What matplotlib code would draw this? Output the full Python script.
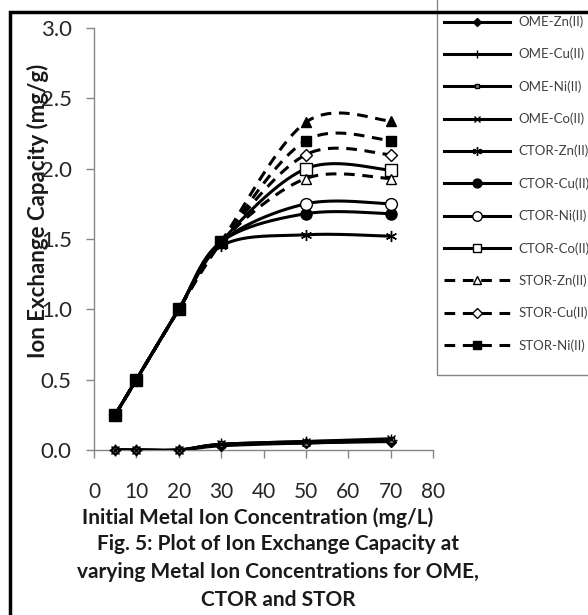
import numpy as np
import matplotlib
matplotlib.use("Agg")
import matplotlib.pyplot as plt
from matplotlib.lines import Line2D
from matplotlib.patches import Rectangle

# initial metal ion concentration (mg/L)
conc = [5, 10, 20, 30, 50, 70]

series_names = [
    "OME-Zn(II)", "OME-Cu(II)", "OME-Ni(II)", "OME-Co(II)",
    "CTOR-Zn(II)", "CTOR-Cu(II)", "CTOR-Ni(II)", "CTOR-Co(II)",
    "STOR-Zn(II)", "STOR-Cu(II)", "STOR-Ni(II)", "STOR-Co(II)",
]

# ion exchange capacity (mg/g)
ome_zn = [0.0, 0.0, 0.0, 0.03, 0.05, 0.06]
ome_cu = [0.0, 0.0, 0.0, 0.04, 0.06, 0.07]
ome_ni = [0.0, 0.0, 0.0, 0.04, 0.05, 0.07]
ome_co = [0.0, 0.0, 0.0, 0.04, 0.06, 0.08]
ctor_zn = [0.25, 0.5, 1.0, 1.45, 1.53, 1.52]
ctor_cu = [0.25, 0.5, 1.0, 1.48, 1.68, 1.68]
ctor_ni = [0.25, 0.5, 1.0, 1.48, 1.75, 1.75]
ctor_co = [0.25, 0.5, 1.0, 1.48, 2.00, 1.99]
stor_zn = [0.25, 0.5, 1.0, 1.48, 1.93, 1.93]
stor_cu = [0.25, 0.5, 1.0, 1.48, 2.10, 2.10]
stor_ni = [0.25, 0.5, 1.0, 1.48, 2.20, 2.20]
stor_co = [0.25, 0.5, 1.0, 1.48, 2.33, 2.34]

values = [ome_zn, ome_cu, ome_ni, ome_co, ctor_zn, ctor_cu, ctor_ni, ctor_co,
          stor_zn, stor_cu, stor_ni, stor_co]

# marker, marker size, face colour, dashed?
styles = [
    ("D", 5, "black", False),
    ("+", 8, "black", False),
    ("s", 4, "#808080", False),
    ("x", 6, "black", False),
    ((6, 2, 0), 8, "black", False),
    ("o", 8, "black", False),
    ("o", 8.5, "white", False),
    ("s", 8, "white", False),
    ("^", 7, "white", True),
    ("D", 6, "white", True),
    ("s", 7.5, "black", True),
    ("^", 7.5, "black", True),
]


def excel_smooth(xs, ys, n=40):
    """Bezier smoothing in the style of Excel's 'smoothed line'."""
    p = np.column_stack([xs, ys]).astype(float)
    out = [p[:1]]
    t = np.linspace(0, 1, n)[1:, None]
    for i in range(len(p) - 1):
        p0 = p[i]
        p3 = p[i + 1]
        prev = p[i - 1] if i > 0 else p[i]
        nxt = p[i + 2] if i + 2 < len(p) else p[i + 1]
        c1 = p0 + (p3 - prev) / 6
        c2 = p3 - (nxt - p0) / 6
        seg = ((1 - t) ** 3) * p0 + 3 * ((1 - t) ** 2) * t * c1 \
            + 3 * (1 - t) * t ** 2 * c2 + t ** 3 * p3
        out.append(seg)
    q = np.vstack(out)
    return q[:, 0], q[:, 1]


fig = plt.figure(figsize=(5.88, 6.15), dpi=100)
ax = fig.add_axes([94 / 588, 1 - 450 / 615, 339 / 588, 422 / 615])

handles = []
for i, (name, ys) in enumerate(zip(series_names, values)):
    mk, ms, fc, dashed = styles[i]
    ls = (0, (3.5, 2.5)) if dashed else "-"
    z = 3 + i
    if name == "STOR-Ni(II)":
        z = 20
    sx, sy = excel_smooth(conc, ys)
    ax.plot(sx, sy, color="black", lw=2.2, linestyle=ls, zorder=z,
            solid_capstyle="butt", dash_capstyle="butt")
    ax.plot(conc, ys, linestyle="none", marker=mk, ms=ms, mfc=fc,
            mec="black", mew=1.0, zorder=z + 0.5, clip_on=False)
    handles.append(Line2D([], [], color="black", lw=2.2, linestyle=ls,
                          marker=mk, ms=ms * 0.8, mfc=fc, mec="black", mew=1.0))

ax.set_xlim(0, 80)
ax.set_ylim(0, 3.0)
ax.set_xticks(range(0, 81, 10))
ax.set_yticks(np.arange(0, 3.01, 0.5))
ax.set_yticklabels([f"{v:.1f}" for v in np.arange(0, 3.01, 0.5)])
for s in ("top", "right"):
    ax.spines[s].set_visible(False)
for s in ("left", "bottom"):
    ax.spines[s].set_color("#868686")
    ax.spines[s].set_linewidth(1.0)
ax.tick_params(direction="out", length=6, width=1.0, color="#868686",
               labelcolor="#262626")
ax.tick_params(axis="x", labelsize=15, pad=17)
ax.tick_params(axis="y", labelsize=16, pad=10)
for lab in ax.get_xticklabels() + ax.get_yticklabels():
    lab.set_family("Lato")

# axis titles and caption
fig.text(38 / 588, 1 - 211 / 615, "Ion Exchange Capacity (mg/g)", rotation=90,
         ha="center", va="center", fontsize=16, fontweight="bold",
         family="Lato", color="#1a1a1a")
fig.text(258 / 588, 1 - 518 / 615, "Initial Metal Ion Concentration (mg/L)",
         ha="center", va="center", fontsize=15, fontweight="bold",
         family="Lato", color="#1a1a1a")
caption = ["Fig. 5: Plot of Ion Exchange Capacity at",
           "varying Metal Ion Concentrations for OME,",
           "CTOR and STOR"]
for k, line in enumerate(caption):
    fig.text(278 / 588, 1 - (544 + 28 * k) / 615, line, ha="center",
             va="center", fontsize=15, fontweight="bold", family="Lato",
             color="#1a1a1a")

# legend box runs past the top and right edges of the panel, as in the source
fig.patches.append(Rectangle((437 / 588, 1 - 375 / 615), 0.5, 0.7,
                             transform=fig.transFigure, fill=False,
                             edgecolor="#868686", lw=1.0, zorder=40))
leg = fig.legend(handles[:11], series_names[:11], loc="upper left",
                 bbox_to_anchor=(437 / 588, 1 - 9 / 615), borderaxespad=0,
                 frameon=False, handlelength=5.0, handletextpad=0.7,
                 labelspacing=1.5, borderpad=0.5,
                 prop={"family": "Lato", "size": 9.5})
for t in leg.get_texts():
    t.set_color("#404040")

# outer frame of the figure panel
fig.patches.append(Rectangle((10 / 588, -0.1), 1.2, 1.1 - 12 / 615,
                             transform=fig.transFigure, fill=False,
                             edgecolor="black", lw=2.5, zorder=50))

fig.savefig("out.png", dpi=100)
